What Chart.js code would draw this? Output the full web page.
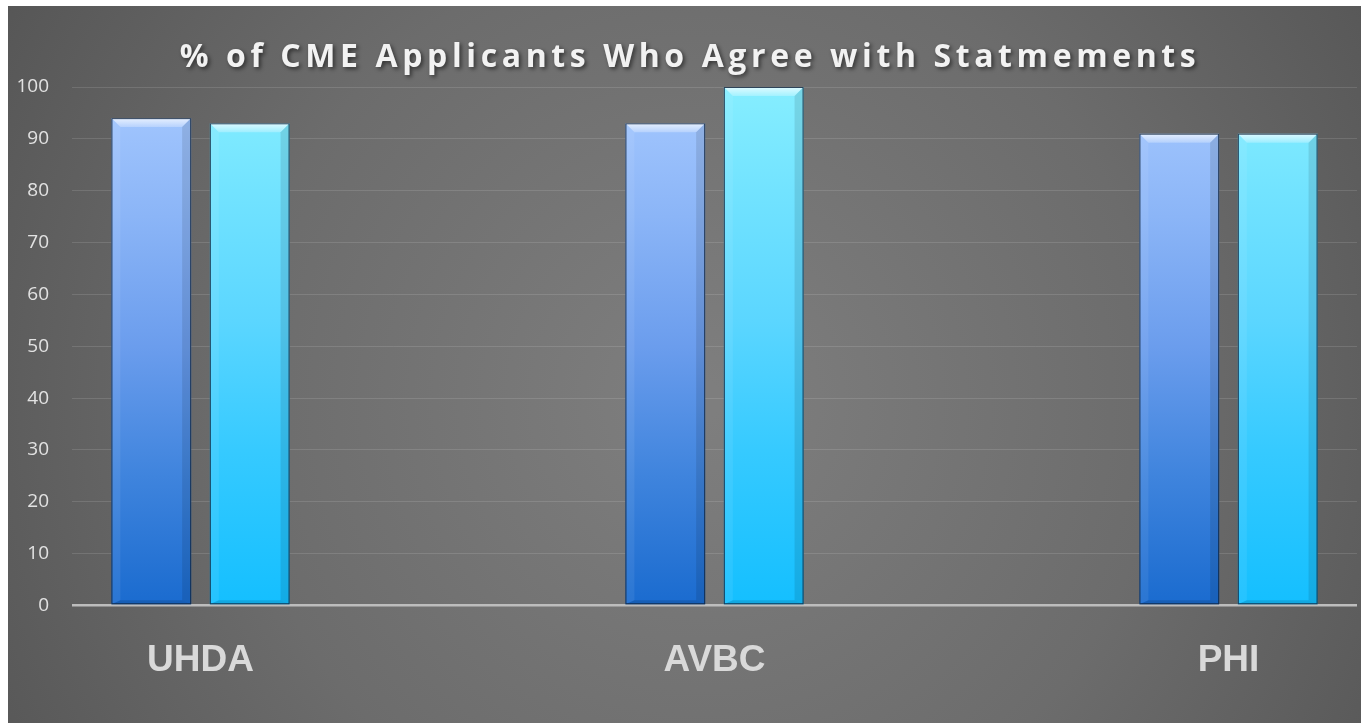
<!DOCTYPE html>
<html>
<head>
<meta charset="utf-8">
<style>
  html, body { margin: 0; padding: 0; background: #ffffff; overflow: hidden; }
  canvas { display: block; }
</style>
<script src="https://cdn.jsdelivr.net/npm/chart.js@4/dist/chart.umd.min.js"></script>
</head>
<body>
<canvas id="c" width="1361" height="723"></canvas>
<script>
const titleText = '% of CME Applicants Who Agree with Statmements';
const categories = ['UHDA', 'AVBC', 'PHI'];
const seriesA = [94, 93, 91];
const seriesB = [93, 100, 91];
const yTicks = [0, 10, 20, 30, 40, 50, 60, 70, 80, 90, 100];

function gradFor(stops) {
  return function (ctx) {
    const chart = ctx.chart;
    const area = chart.chartArea;
    if (!area) return stops[stops.length - 1][1];
    const g = chart.ctx.createLinearGradient(0, area.bottom, 0, area.top);
    stops.forEach(s => g.addColorStop(s[0], s[1]));
    return g;
  };
}

const blueStops = [[0, '#1a6bcf'], [0.25, '#3f84dd'], [0.5, '#6b9ded'], [0.75, '#8bb5f7'], [1, '#a6c9ff']];
const cyanStops = [[0, '#14bfff'], [0.3, '#36caff'], [0.55, '#5bd6ff'], [0.8, '#72e3ff'], [1, '#86eeff']];

const bgPlugin = {
  id: 'bg',
  beforeDraw(chart) {
    const c = chart.ctx;
    const w = chart.width, h = chart.height;
    c.save();
    c.fillStyle = '#ffffff';
    c.fillRect(0, 0, w, h);
    const g = c.createRadialGradient(700, 400, 20, 700, 400, 820);
    g.addColorStop(0, '#7e7e7e');
    g.addColorStop(0.55, '#6c6c6c');
    g.addColorStop(1, '#555555');
    c.fillStyle = g;
    c.fillRect(8, 6, w - 8, h - 6);
    // title
    c.font = 'bold 32px "Open Sans"';
    c.letterSpacing = '4.6px';
    c.textAlign = 'center';
    c.textBaseline = 'alphabetic';
    c.shadowColor = 'rgba(0,0,0,0.55)';
    c.shadowBlur = 4;
    c.shadowOffsetX = 2;
    c.shadowOffsetY = 2;
    c.fillStyle = '#f2f2f2';
    c.fillText(titleText, 690, 67);
    c.restore();
  }
};

const bevelPlugin = {
  id: 'bevel',
  afterDatasetsDraw(chart) {
    const c = chart.ctx;
    chart.data.datasets.forEach((ds, di) => {
      const meta = chart.getDatasetMeta(di);
      meta.data.forEach(el => {
        const p = el.getProps(['x', 'y', 'base', 'width'], true);
        const l = p.x - p.width / 2, r = p.x + p.width / 2, t = p.y, b = p.base;
        const bv = 9;
        c.save();
        const tg = c.createLinearGradient(0, t, 0, t + bv);
        tg.addColorStop(0, 'rgba(255,255,255,0.75)');
        tg.addColorStop(1, 'rgba(255,255,255,0.25)');
        c.fillStyle = tg;
        c.beginPath();
        c.moveTo(l, t); c.lineTo(r, t); c.lineTo(r - bv, t + bv); c.lineTo(l + bv, t + bv); c.closePath();
        c.fill();
        c.fillStyle = 'rgba(255,255,255,0.07)';
        c.beginPath();
        c.moveTo(l, t); c.lineTo(l + bv, t + bv); c.lineTo(l + bv, b - 4); c.lineTo(l, b); c.closePath();
        c.fill();
        c.fillStyle = 'rgba(0,0,0,0.10)';
        c.beginPath();
        c.moveTo(r, t); c.lineTo(r - bv, t + bv); c.lineTo(r - bv, b - 4); c.lineTo(r, b); c.closePath();
        c.fill();
        c.fillStyle = 'rgba(0,0,0,0.12)';
        c.beginPath();
        c.moveTo(l, b); c.lineTo(l + bv, b - 4); c.lineTo(r - bv, b - 4); c.lineTo(r, b); c.closePath();
        c.fill();
        c.strokeStyle = 'rgba(15,35,60,0.85)';
        c.lineWidth = 1;
        c.strokeRect(l + 0.5, t + 0.5, p.width - 1, b - t - 1);
        c.restore();
      });
    });
  }
};

new Chart(document.getElementById('c'), {
  type: 'bar',
  data: {
    datasets: [
      {
        label: 'Series 1',
        data: categories.map((c, i) => ({ x: i, y: seriesA[i] })),
        backgroundColor: gradFor(blueStops),
        borderWidth: 0,
        categoryPercentage: 0.383,
        barPercentage: 0.81
      },
      {
        label: 'Series 2',
        data: categories.map((c, i) => ({ x: i, y: seriesB[i] })),
        backgroundColor: gradFor(cyanStops),
        borderWidth: 0,
        categoryPercentage: 0.383,
        barPercentage: 0.81
      }
    ]
  },
  options: {
    responsive: false,
    animation: false,
    devicePixelRatio: 1,
    layout: { padding: { top: 87, right: 4, bottom: 0, left: 0 } },
    plugins: {
      legend: { display: false },
      tooltip: { enabled: false },
      title: { display: false }
    },
    scales: {
      x: {
        type: 'linear',
        offset: false,
        min: -0.25,
        max: 2.25,
        afterBuildTicks(scale) { scale.ticks = categories.map((c, i) => ({ value: i })); },
        afterFit(scale) { scale.height = 117.5; },
        grid: { display: false, drawTicks: false, offset: false },
        border: { display: false },
        ticks: {
          callback: (v) => categories[v],
          color: '#d9d9d9',
          font: { family: '"Liberation Sans", Arial, sans-serif', size: 37, weight: 'bold' },
          padding: 33,
          maxRotation: 0,
          autoSkip: false
        }
      },
      y: {
        min: 0,
        max: 100,
        afterBuildTicks(scale) { scale.ticks = yTicks.map(v => ({ value: v })); },
        afterFit(scale) { scale.width = 72; },
        grid: {
          drawTicks: false,
          color: (ctx) => ctx.tick && ctx.tick.value === 0 ? '#bdbdbd' : 'rgba(255,255,255,0.12)',
          lineWidth: (ctx) => ctx.tick && ctx.tick.value === 0 ? 2.5 : 1
        },
        border: { display: false },
        ticks: {
          color: '#e2e2e2',
          font: { family: '"Open Sans", sans-serif', size: 19 },
          padding: 23
        }
      }
    }
  },
  plugins: [bgPlugin, bevelPlugin]
});
</script>
</body>
</html>
